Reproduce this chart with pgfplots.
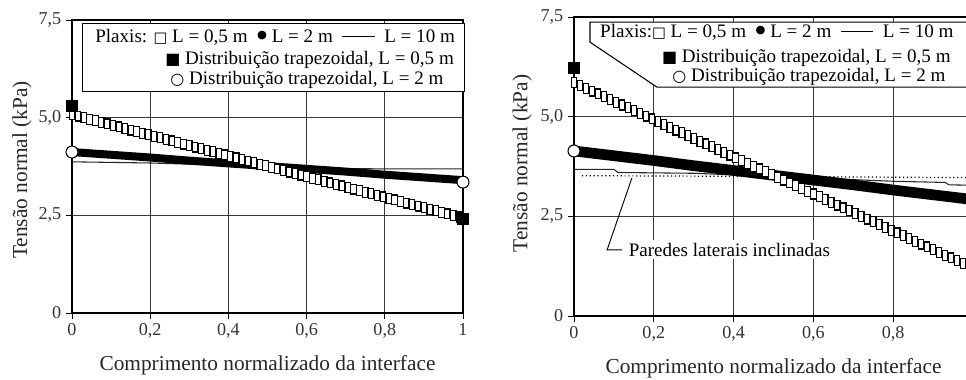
\documentclass[border=0pt]{standalone}
\usepackage{fontspec}
\setmainfont{Liberation Serif}
\newfontfamily\symf{DejaVu Sans}
\usepackage{pgfplots}
\usetikzlibrary{plotmarks}
\pgfplotsset{compat=1.18}
\definecolor{gridc}{RGB}{55,55,65}
\pgfplotsset{
  myax/.style={
    scale only axis, clip=false,
    xmin=0, xmax=1, ymin=0, ymax=7.5,
    xtick={0,0.2,0.4,0.6,0.8,1},
    ytick={0,2.5,5,7.5},
    yticklabels={0,{2,5},{5,0},{7,5}},
    xtick pos=bottom, ytick pos=left,
    tick align=outside, major tick length=4.5pt,
    tick style={black, line width=0.7pt},
    grid=major,
    major grid style={gridc, line width=0.7pt},
    axis line style={black, line width=0.8pt},
    tick label style={font=\fontsize{13.6}{16}\selectfont, black!80},
    label style={font=\fontsize{16}{19}\selectfont, black!85},
    xlabel={Comprimento normalizado da interface},
    ylabel={Tensão normal (kPa)},
  },
}
\newcommand{\lf}{\fontsize{14.3}{17}\selectfont}
\newcommand{\osq}{{\symf\fontsize{11}{13}\selectfont □}}
\newcommand{\fci}{\raisebox{0.18em}{\symf\fontsize{8.5}{10}\selectfont ●}}
\newcommand{\fsq}{{\symf\fontsize{12}{14}\selectfont ■}}
\newcommand{\oci}{{\symf\fontsize{12}{14}\selectfont ○}}
\begin{document}
\begin{tikzpicture}
\clip (0,0) rectangle (724.5pt,284.25pt);
% ---------------- left panel ----------------
\begin{axis}[myax, at={(54pt,49.5pt)}, anchor=south west,
  width=293.25pt, height=219.75pt,
  xticklabels={0,{0,2},{0,4},{0,6},{0,8},1},
  xlabel style={at={(axis description cs:0.5,-0.177)}, anchor=center},
  ylabel style={at={(axis description cs:-0.128,0.488)}, anchor=center},
]
\addplot[black!85, line width=0.8pt, mark=none] coordinates {(0,3.87) (0.2,3.84) (0.4,3.78) (0.6,3.70) (0.8,3.69) (1,3.69)};
\addplot[black, line width=6pt, mark=none] coordinates {(0,4.12) (0.1,4.05) (0.2,3.98) (0.3,3.90) (0.4,3.83) (0.5,3.76) (0.6,3.69) (0.7,3.62) (0.8,3.54) (0.9,3.47) (1,3.40)};
\addplot[draw=none, mark=square*, mark size=3.7pt,
    mark options={xscale=0.55, fill=white, draw=black, line width=0.9pt, solid}] coordinates {
(0,5.080) (0.015,5.040) (0.03,5.001) (0.045,4.961) (0.06,4.921) (0.075,4.881) (0.09,4.842) (0.105,4.802) (0.12,4.762) (0.135,4.722)
(0.15,4.683) (0.165,4.643) (0.18,4.603) (0.195,4.563) (0.21,4.524) (0.225,4.484) (0.24,4.444) (0.255,4.404) (0.27,4.365) (0.285,4.325)
(0.30,4.285) (0.315,4.245) (0.33,4.206) (0.345,4.166) (0.36,4.126) (0.375,4.086) (0.39,4.047) (0.405,4.007) (0.42,3.967) (0.435,3.927)
(0.45,3.888) (0.465,3.848) (0.48,3.808) (0.495,3.768) (0.51,3.729) (0.525,3.689) (0.54,3.649) (0.555,3.609) (0.57,3.570) (0.585,3.530)
(0.60,3.490) (0.615,3.450) (0.63,3.411) (0.645,3.371) (0.66,3.331) (0.675,3.291) (0.69,3.252) (0.705,3.212) (0.72,3.172) (0.735,3.132)
(0.75,3.093) (0.765,3.053) (0.78,3.013) (0.795,2.973) (0.81,2.934) (0.825,2.894) (0.84,2.854) (0.855,2.814) (0.87,2.775) (0.885,2.735)
(0.90,2.695) (0.915,2.655) (0.93,2.616) (0.945,2.576) (0.96,2.536) (0.975,2.496) (0.99,2.457) (1,2.43)};
\addplot[draw=none, mark=square*, mark size=4.3pt, mark options={fill=black, draw=black, solid}] coordinates {(0,5.30) (1,2.41)};
\addplot[draw=none, mark=*, mark size=4.5pt, mark options={fill=white, draw=black, line width=0.8pt, solid}] coordinates {(0,4.12) (1,3.35)};
% legend
\draw[black, line width=0.8pt, fill=white] (axis cs:0.028,7.42) rectangle (axis cs:1.005,5.68);
\node[anchor=west, inner sep=0pt, font=\lf] at (axis cs:0.059,7.06)
  {Plaxis: \osq{} L = 0,5 m\enspace\fci{} L = 2 m\enspace\rule[0.3em]{1.7em}{0.6pt}\enspace L = 10 m};
\node[anchor=west, inner sep=0pt, font=\lf] at (axis cs:0.238,6.48)
  {\fsq{} Distribuição trapezoidal, L = 0,5 m};
\node[anchor=west, inner sep=0pt, font=\lf] at (axis cs:0.251,5.96)
  {\oci{} Distribuição trapezoidal, L = 2 m};
\end{axis}
% ---------------- right panel ----------------
\begin{axis}[myax, at={(430.5pt,47.25pt)}, anchor=south west,
  width=299.25pt, height=224.25pt,
  xticklabels={0,{0,2},{0,4},{0,6},{0,8},{}},
  xlabel style={at={(axis description cs:0.5,-0.174)}, anchor=center},
  ylabel style={at={(axis description cs:-0.13,0.51)}, anchor=center},
]
\addplot[black!85, line width=0.8pt, mark=none] coordinates {(0,3.68) (0.1,3.68) (0.11,3.60) (0.3,3.58) (0.5,3.50) (0.7,3.42) (0.8,3.38) (0.93,3.35) (0.94,3.29) (1,3.28)};
\addplot[black, line width=0.9pt, dotted, mark=none] coordinates {(0.02,3.52) (0.5,3.50) (1,3.47)};
\addplot[black, line width=8pt, mark=none] coordinates {(0,4.14) (0.1,4.02) (0.2,3.90) (0.3,3.77) (0.4,3.65) (0.5,3.53) (0.6,3.41) (0.7,3.29) (0.8,3.16) (0.9,3.04) (1,2.92)};
\addplot[draw=none, mark=square*, mark size=3.7pt,
    mark options={xscale=0.55, fill=white, draw=black, line width=0.9pt, solid}] coordinates {
(0,5.850) (0.015,5.780) (0.03,5.711) (0.045,5.641) (0.06,5.571) (0.075,5.501) (0.09,5.432) (0.105,5.362) (0.12,5.292) (0.135,5.222)
(0.15,5.153) (0.165,5.083) (0.18,5.013) (0.195,4.943) (0.21,4.874) (0.225,4.804) (0.24,4.734) (0.255,4.664) (0.27,4.595) (0.285,4.525)
(0.30,4.455) (0.315,4.385) (0.33,4.316) (0.345,4.246) (0.36,4.176) (0.375,4.106) (0.39,4.037) (0.405,3.967) (0.42,3.897) (0.435,3.827)
(0.45,3.758) (0.465,3.688) (0.48,3.618) (0.495,3.548) (0.51,3.479) (0.525,3.409) (0.54,3.339) (0.555,3.269) (0.57,3.200) (0.585,3.130)
(0.60,3.060) (0.615,2.990) (0.63,2.921) (0.645,2.851) (0.66,2.781) (0.675,2.711) (0.69,2.642) (0.705,2.572) (0.72,2.502) (0.735,2.432)
(0.75,2.363) (0.765,2.293) (0.78,2.223) (0.795,2.153) (0.81,2.084) (0.825,2.014) (0.84,1.944) (0.855,1.874) (0.87,1.805) (0.885,1.735)
(0.90,1.665) (0.915,1.595) (0.93,1.526) (0.945,1.456) (0.96,1.386) (0.975,1.316) (0.99,1.247) (1,1.20)};
\addplot[draw=none, mark=square*, mark size=4.3pt, mark options={fill=black, draw=black, solid}] coordinates {(0,6.22)};
\addplot[draw=none, mark=*, mark size=4.5pt, mark options={fill=white, draw=black, line width=0.8pt, solid}] coordinates {(0,4.14)};
% annotation
\draw[black, line width=0.7pt] (axis cs:0.145,3.46) -- (axis cs:0.083,1.66) -- (axis cs:0.12,1.66);
\node[anchor=west, fill=white, inner sep=2pt, font=\lf] at (axis cs:0.13,1.66) {Paredes laterais inclinadas};
% legend
\draw[black, line width=0.8pt, fill=white] (axis cs:0.04,7.37) -- (axis cs:1.2,7.37) -- (axis cs:1.2,5.74) -- (axis cs:0.208,5.74) -- (axis cs:0.04,6.87) -- cycle;
\node[anchor=west, inner sep=0pt, font=\lf] at (axis cs:0.065,7.12)
  {Plaxis:\osq{} L = 0,5 m\enspace\fci{} L = 2 m\enspace\rule[0.3em]{1.7em}{0.6pt}\enspace L = 10 m};
\node[anchor=west, inner sep=0pt, font=\lf] at (axis cs:0.22,6.47)
  {\fsq{} Distribuição trapezoidal, L = 0,5 m};
\node[anchor=west, inner sep=0pt, font=\lf] at (axis cs:0.246,5.99)
  {\oci{} Distribuição trapezoidal, L = 2 m};
\end{axis}
\end{tikzpicture}
\end{document}
